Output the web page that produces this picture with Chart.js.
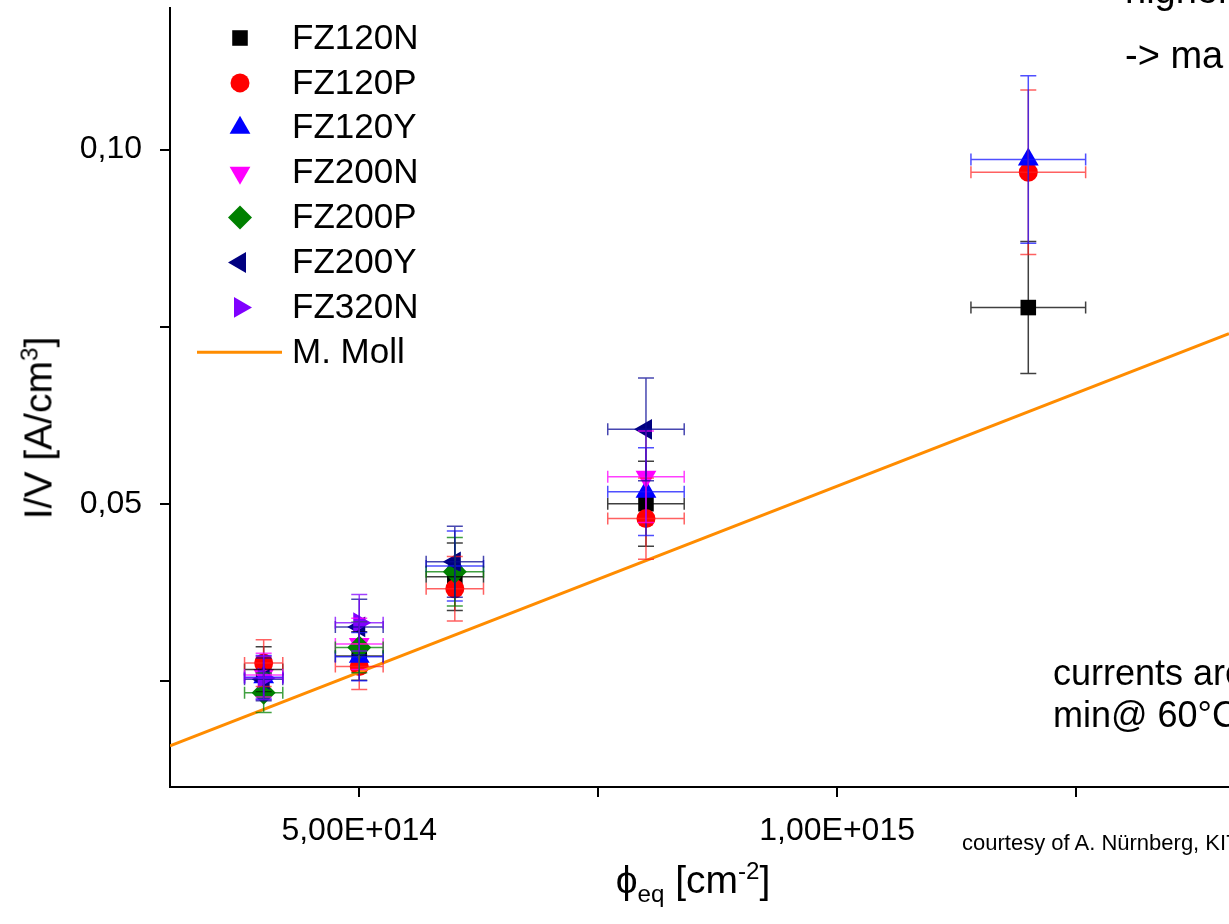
<!DOCTYPE html>
<html>
<head>
<meta charset="utf-8">
<script src="https://cdn.jsdelivr.net/npm/chart.js@4/dist/chart.umd.min.js"></script>
<style>
  html, body { margin: 0; padding: 0; background: #fff; }
  #wrap { position: relative; width: 1229px; height: 924px; overflow: hidden; font-family: "Liberation Sans", Arial, sans-serif; color: #000; }
  #plot { position: absolute; left: 0; top: 0; }
  .note { position: absolute; white-space: nowrap; line-height: 1; }
  .ytitle { position: absolute; left: 38px; top: 428px; transform: translate(-50%, -50%) rotate(-90deg); font-size: 39px; white-space: nowrap; line-height: 1; }
  .xtitle { position: absolute; left: 693px; top: 860px; transform: translateX(-50%); font-size: 39px; white-space: nowrap; line-height: 1; }
  sup, sub { font-size: 62%; line-height: 0; }
</style>
</head>
<body>
<div id="wrap">
  <canvas id="plot" width="1229" height="924"></canvas>
  <div class="ytitle">I/V [A/cm<sup>3</sup>]</div>
  <div class="xtitle">ϕ<sub>eq</sub> [cm<sup>-2</sup>]</div>
  <div class="note" style="left:1125px; top:-29px; font-size:38px;">higher</div>
  <div class="note" style="left:1125px; top:36px; font-size:38px;">-&gt; ma</div>
  <div class="note" style="left:1053px; top:655px; font-size:36px;">currents are</div>
  <div class="note" style="left:1053px; top:697px; font-size:36px;">min@ 60°C</div>
  <div class="note" style="left:962px; top:832px; font-size:22px;">courtesy of A. Nürnberg, KIT</div>
</div>
<script>
// fluence points (cm^-2)
const fluences = [4e14, 5e14, 6e14, 8e14, 1.2e15];

// leakage current per volume (A/cm^3), null = not measured
const fz120N = [0.0266, 0.0285, 0.0397, 0.0500, 0.0777];
const fz120P = [0.0275, 0.0270, 0.0380, 0.0479, 0.0968];
const fz120Y = [0.0255, 0.0284, 0.0412, 0.0517, 0.0986];
const fz200N = [0.0258, 0.0302, null, 0.0538, null];
const fz200P = [0.0233, 0.0297, 0.0404, null, null];
const fz200Y = [0.0252, 0.0326, 0.0418, 0.0605, null];
const fz320N = [0.0254, 0.0332, null, null, null];

// relative uncertainties of fluence and current
const xRelErr = 0.05;
const yRelErr = 0.12;

// M. Moll reference line
const mollX = [3.02e14, 1.41e15];
const mollY = [0.0158, 0.0740];

const xTicks = [5e14, 7.5e14, 1e15, 1.25e15];
const xTickLabels = { 5e14: "5,00E+014", 1e15: "1,00E+015" };
const yTicks = [0.025, 0.05, 0.075, 0.1];
const yTickLabels = { 0.05: "0,05", 0.1: "0,10" };

const series = [
  { label: "FZ120N", values: fz120N, color: "#000000", bar: "rgba(0,0,0,0.75)", style: "rect", rotation: 0, radius: 11 },
  { label: "FZ120P", values: fz120P, color: "#ff0000", bar: "rgba(255,30,30,0.7)", style: "circle", rotation: 0, radius: 9.5 },
  { label: "FZ120Y", values: fz120Y, color: "#0000ff", bar: "rgba(20,20,255,0.75)", style: "triangle", rotation: 0, radius: 12 },
  { label: "FZ200N", values: fz200N, color: "#ff00ff", bar: "rgba(255,0,255,0.75)", style: "triangle", rotation: 180, radius: 12 },
  { label: "FZ200P", values: fz200P, color: "#008000", bar: "rgba(0,128,0,0.75)", style: "rectRot", rotation: 0, radius: 12 },
  { label: "FZ200Y", values: fz200Y, color: "#000080", bar: "rgba(10,10,150,0.75)", style: "triangle", rotation: 270, radius: 12 },
  { label: "FZ320N", values: fz320N, color: "#8000ff", bar: "rgba(128,0,255,0.75)", style: "triangle", rotation: 90, radius: 12 },
];

function buildPoints(values) {
  const pts = [];
  values.forEach((v, i) => {
    if (v === null) return;
    const f = fluences[i];
    pts.push({ x: f, y: v, dx: f * xRelErr, dy: v * yRelErr });
  });
  return pts;
}

const datasets = series.map((s, i) => ({
  label: s.label,
  data: buildPoints(s.values),
  showLine: false,
  pointStyle: s.style,
  rotation: s.rotation,
  pointRadius: s.radius,
  pointHoverRadius: s.radius,
  backgroundColor: s.color,
  borderColor: s.color,
  borderWidth: 0,
  errorColor: s.bar,
  order: -i,
}));

datasets.push({
  type: "line",
  label: "M. Moll",
  data: mollX.map((x, i) => ({ x: x, y: mollY[i] })),
  borderColor: "#ff8c00",
  borderWidth: 3,
  pointRadius: 0,
  fill: false,
  order: -20,
});

// error bars with caps, drawn over the markers
const errorBars = {
  id: "errorBars",
  afterDatasetsDraw(chart) {
    const ctx = chart.ctx;
    const xs = chart.scales.x;
    const ys = chart.scales.y;
    ctx.save();
    ctx.lineWidth = 1.5;
    chart.data.datasets.forEach((ds) => {
      if (!ds.errorColor) return;
      ctx.strokeStyle = ds.errorColor;
      ds.data.forEach((p) => {
        const px = xs.getPixelForValue(p.x);
        const py = ys.getPixelForValue(p.y);
        const xl = xs.getPixelForValue(p.x - p.dx);
        const xr = xs.getPixelForValue(p.x + p.dx);
        const yt = ys.getPixelForValue(p.y + p.dy);
        const yb = ys.getPixelForValue(p.y - p.dy);
        ctx.beginPath();
        ctx.moveTo(xl, py); ctx.lineTo(xr, py);
        ctx.moveTo(xl, py - 6); ctx.lineTo(xl, py + 6);
        ctx.moveTo(xr, py - 6); ctx.lineTo(xr, py + 6);
        ctx.moveTo(px, yt); ctx.lineTo(px, yb);
        ctx.moveTo(px - 8, yt); ctx.lineTo(px + 8, yt);
        ctx.moveTo(px - 8, yb); ctx.lineTo(px + 8, yb);
        ctx.stroke();
      });
    });
    ctx.restore();
  },
};

// legend placed inside the plot, top left
const insideLegend = {
  id: "insideLegend",
  afterDraw(chart) {
    const ctx = chart.ctx;
    ctx.save();
    ctx.font = "35px 'Liberation Sans', Arial, sans-serif";
    ctx.textBaseline = "middle";
    ctx.fillStyle = "#000";
    chart.data.datasets.forEach((ds, i) => {
      const y = 38 + i * 44.9;
      if (ds.type === "line") {
        ctx.strokeStyle = ds.borderColor;
        ctx.lineWidth = 3;
        ctx.beginPath();
        ctx.moveTo(197, y);
        ctx.lineTo(282, y);
        ctx.stroke();
      } else {
        ctx.fillStyle = ds.backgroundColor;
        ctx.strokeStyle = ds.backgroundColor;
        Chart.helpers.drawPoint(ctx, {
          pointStyle: ds.pointStyle,
          rotation: ds.rotation,
          radius: ds.pointRadius,
          borderWidth: 0,
        }, 240, y);
      }
      ctx.fillStyle = "#000";
      ctx.fillText(ds.label, 292, y + 1);
    });
    ctx.restore();
  },
};

const tickFont = { family: "'Liberation Sans', Arial, sans-serif", size: 32 };

new Chart(document.getElementById("plot"), {
  type: "scatter",
  data: { datasets: datasets },
  plugins: [errorBars, insideLegend],
  options: {
    responsive: false,
    maintainAspectRatio: false,
    devicePixelRatio: 1,
    animation: false,
    layout: { autoPadding: false, padding: { top: 8, right: 0, left: 0, bottom: 0 } },
    plugins: {
      legend: { display: false },
      tooltip: { enabled: false },
    },
    scales: {
      x: {
        type: "linear",
        min: 3.02e14,
        max: 1.41e15,
        afterFit: function (scale) {
          scale.height = 137;
          scale.paddingLeft = 0;
          scale.paddingRight = 0;
        },
        afterBuildTicks: function (scale) {
          scale.ticks = xTicks.map((v) => ({ value: v }));
        },
        ticks: {
          autoSkip: false,
          maxRotation: 0,
          padding: 15,
          color: "#000",
          font: tickFont,
          callback: function (value) { return xTickLabels[value] || ""; },
        },
        grid: { drawOnChartArea: false, drawTicks: true, tickLength: 10, color: "#000", lineWidth: 2 },
        border: { display: true, color: "#000", width: 2 },
      },
      y: {
        type: "linear",
        min: 0.01,
        max: 0.12,
        afterFit: function (scale) {
          scale.width = 170;
          scale.paddingTop = 0;
          scale.paddingBottom = 0;
        },
        afterBuildTicks: function (scale) {
          scale.ticks = yTicks.map((v) => ({ value: v }));
        },
        ticks: {
          autoSkip: false,
          padding: 18,
          color: "#000",
          font: tickFont,
          callback: function (value) { return yTickLabels[value] || ""; },
        },
        grid: { drawOnChartArea: false, drawTicks: true, tickLength: 10, color: "#000", lineWidth: 2 },
        border: { display: true, color: "#000", width: 2 },
      },
    },
  },
});
</script>
</body>
</html>
